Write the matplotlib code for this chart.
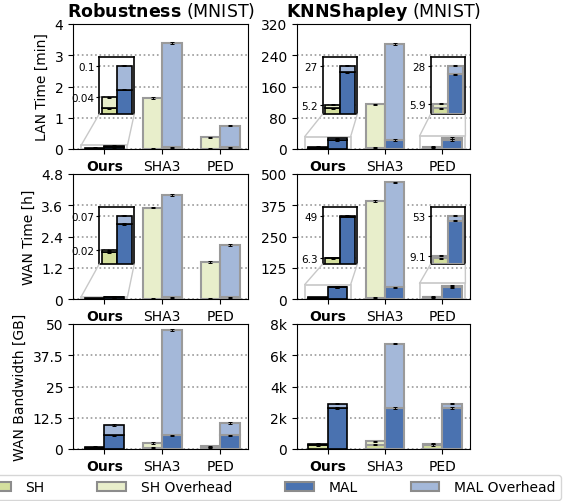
import matplotlib
matplotlib.use("Agg")
import matplotlib.pyplot as plt
from matplotlib.patches import Patch, Rectangle, ConnectionPatch
import numpy as np

groups = ["Ours", "SHA3", "PED"]
legend_labels = ["SH", "SH Overhead", "MAL", "MAL Overhead"]

# Robustness (MNIST) - LAN Time [min]
rob_lan_sh_base = [0.012, 0.012, 0.012]
rob_lan_sh_total = [0.035, 1.64, 0.37]
rob_lan_mal_base = [0.05, 0.05, 0.05]
rob_lan_mal_total = [0.10, 3.39, 0.75]
rob_lan_yticks = [0, 1, 2, 3, 4]
rob_lan_yticklabels = ["0", "1", "2", "3", "4"]
rob_lan_insets = {0: ["0.04", "0.1"]}

# KNNShapley (MNIST) - LAN Time [min]
knn_lan_sh_base = [3.3, 3.3, 3.3]
knn_lan_sh_total = [5.2, 114, 5.9]
knn_lan_mal_base = [23.2, 23, 23]
knn_lan_mal_total = [27, 269, 28]
knn_lan_yticks = [0, 80, 160, 240, 320]
knn_lan_yticklabels = ["0", "80", "160", "240", "320"]
knn_lan_insets = {0: ["5.2", "27"], 2: ["5.9", "28"]}

# Robustness (MNIST) - WAN Time [h]
rob_wan_sh_base = [0.017, 0.017, 0.017]
rob_wan_sh_total = [0.02, 3.51, 1.43]
rob_wan_mal_base = [0.058, 0.058, 0.058]
rob_wan_mal_total = [0.07, 3.99, 2.07]
rob_wan_yticks = [0, 1.2, 2.4, 3.6, 4.8]
rob_wan_yticklabels = ["0", "1.2", "2.4", "3.6", "4.8"]
rob_wan_insets = {0: ["0.02", "0.07"]}

# KNNShapley (MNIST) - WAN Time [h]
knn_wan_sh_base = [6.0, 6.0, 6.3]
knn_wan_sh_total = [6.3, 393, 9.1]
knn_wan_mal_base = [48, 47, 47.7]
knn_wan_mal_total = [49, 467, 53]
knn_wan_yticks = [0, 125, 250, 375, 500]
knn_wan_yticklabels = ["0", "125", "250", "375", "500"]
knn_wan_insets = {0: ["6.3", "49"], 2: ["9.1", "53"]}

# Robustness (MNIST) - WAN Bandwidth [GB]
rob_bw_sh_base = [0.6, 0.6, 0.6]
rob_bw_sh_total = [0.9, 2.5, 1.1]
rob_bw_mal_base = [5.5, 5.5, 5.5]
rob_bw_mal_total = [9.7, 47.6, 10.5]
rob_bw_yticks = [0, 12.5, 25, 37.5, 50]
rob_bw_yticklabels = ["0", "12.5", "25", "37.5", "50"]

# KNNShapley (MNIST) - WAN Bandwidth [GB]
knn_bw_sh_base = [260, 280, 260]
knn_bw_sh_total = [340, 490, 340]
knn_bw_mal_base = [2620, 2620, 2620]
knn_bw_mal_total = [2900, 6740, 2900]
knn_bw_yticks = [0, 2000, 4000, 6000, 8000]
knn_bw_yticklabels = ["0", "2k", "4k", "6k", "8k"]

titles = [("Robustness", "(MNIST)"), ("KNNShapley", "(MNIST)")]
ylabels = ["LAN Time [min]", "WAN Time [h]", "WAN Bandwidth [GB]"]

# ---------------- style ----------------
C_SH = "#d4df9e"
C_SHO = "#e8eecb"
C_MAL = "#4a72b0"
C_MALO = "#a4b8d9"
EDGE_OURS = "black"
EDGE_OTHER = "#9a9a9a"
W = 0.335
ERR_FRAC = 0.006
INSET_X = {0: 0.15, 2: 0.773}
INSET_Y, INSET_W, INSET_H = 0.28, 0.2, 0.456
INSET_TOP = 1.18
ZOOM_HALF = 0.4

plt.rcParams["font.family"] = ["DejaVu Sans"]

fig = plt.figure(figsize=(5.66, 5.02), dpi=100)

col_x = [73 / 566, 296.7 / 566]
col_w = [175 / 566, 173.3 / 566]
row_y = [1 - 150 / 502, 1 - 300 / 502, 1 - 450 / 502]
row_h = 125 / 502


def draw_bars(ax, sh_b, sh_t, mal_b, mal_t, ymax, fs_err=ERR_FRAC):
    x = np.arange(len(groups))
    err = ymax * fs_err
    for i in range(len(groups)):
        ec = EDGE_OURS if i == 0 else EDGE_OTHER
        lw = 1.2 if i == 0 else 1.5
        xl = x[i] - W / 2
        xr = x[i] + W / 2
        ax.bar(xl, sh_b[i], W, color=C_SH, edgecolor=ec, lw=lw, zorder=3)
        ax.bar(xl, sh_t[i] - sh_b[i], W, bottom=sh_b[i], color=C_SHO,
               edgecolor=ec, lw=lw, zorder=3)
        ax.bar(xr, mal_b[i], W, color=C_MAL, edgecolor=ec, lw=lw, zorder=3)
        ax.bar(xr, mal_t[i] - mal_b[i], W, bottom=mal_b[i], color=C_MALO,
               edgecolor=ec, lw=lw, zorder=3)
        ax.errorbar([xl, xl, xr, xr], [sh_b[i], sh_t[i], mal_b[i], mal_t[i]],
                    yerr=err, fmt="none", ecolor="black", elinewidth=0.7,
                    capsize=1.2, capthick=0.7, zorder=4)


def style_main(ax, yticks, yticklabels):
    ax.set_xlim(-0.54, 2.48)
    ax.set_ylim(yticks[0], yticks[-1])
    ax.set_yticks(yticks)
    ax.set_yticklabels(yticklabels)
    ax.set_xticks(np.arange(len(groups)))
    ax.set_xticklabels(groups)
    ax.get_xticklabels()[0].set_fontweight("bold")
    ax.tick_params(axis="both", labelsize=10, length=3.5)
    ax.yaxis.grid(True, linestyle=":", color="#999999", lw=1.2)
    ax.set_axisbelow(True)


def add_inset(ax, g, labels, sh_b, sh_t, mal_b, mal_t):
    axins = ax.inset_axes([INSET_X[g], INSET_Y, INSET_W, INSET_H])
    top = max(sh_t[g], mal_t[g]) * INSET_TOP
    draw_bars(axins, sh_b, sh_t, mal_b, mal_t, top, fs_err=0.01)
    axins.set_xlim(g - 0.39, g + 0.39)
    axins.set_ylim(0, top)
    axins.set_xticks([])
    axins.set_yticks([sh_t[g], mal_t[g]])
    axins.set_yticklabels(labels)
    axins.tick_params(axis="y", labelsize=7.5, length=2, pad=1.5)
    axins.yaxis.grid(True, linestyle=":", color="#999999", lw=1.2)
    axins.set_axisbelow(True)
    for s in axins.spines.values():
        s.set_linewidth(1.2)
    ax.add_patch(Rectangle((g - ZOOM_HALF, 0), 2 * ZOOM_HALF, top, fill=False,
                           edgecolor="#cccccc", lw=1.3, zorder=2.5))
    for ax_corner, xd in [((0, 0), g - ZOOM_HALF), ((1, 0), g + ZOOM_HALF)]:
        cp = ConnectionPatch(xyA=ax_corner, coordsA=axins.transAxes,
                             xyB=(xd, top), coordsB=ax.transData,
                             color="#c8c8c8", lw=1.0, zorder=2)
        fig.add_artist(cp)


panels = [
    [(rob_lan_sh_base, rob_lan_sh_total, rob_lan_mal_base, rob_lan_mal_total,
      rob_lan_yticks, rob_lan_yticklabels, rob_lan_insets),
     (knn_lan_sh_base, knn_lan_sh_total, knn_lan_mal_base, knn_lan_mal_total,
      knn_lan_yticks, knn_lan_yticklabels, knn_lan_insets)],
    [(rob_wan_sh_base, rob_wan_sh_total, rob_wan_mal_base, rob_wan_mal_total,
      rob_wan_yticks, rob_wan_yticklabels, rob_wan_insets),
     (knn_wan_sh_base, knn_wan_sh_total, knn_wan_mal_base, knn_wan_mal_total,
      knn_wan_yticks, knn_wan_yticklabels, knn_wan_insets)],
    [(rob_bw_sh_base, rob_bw_sh_total, rob_bw_mal_base, rob_bw_mal_total,
      rob_bw_yticks, rob_bw_yticklabels, {}),
     (knn_bw_sh_base, knn_bw_sh_total, knn_bw_mal_base, knn_bw_mal_total,
      knn_bw_yticks, knn_bw_yticklabels, {})],
]

for r in range(3):
    for c in range(2):
        sh_b, sh_t, mal_b, mal_t, yt, ytl, insets = panels[r][c]
        ax = fig.add_axes([col_x[c], row_y[r], col_w[c], row_h])
        draw_bars(ax, sh_b, sh_t, mal_b, mal_t, yt[-1])
        style_main(ax, yt, ytl)
        for g, labels in insets.items():
            add_inset(ax, g, labels, sh_b, sh_t, mal_b, mal_t)
        if c == 0:
            ax.set_ylabel(ylabels[r], fontsize=10)
        if r == 0:
            bold, rest = titles[c]
            ax.set_title(r"$\mathbf{" + bold + "}$ " + rest, fontsize=12.5, pad=6)

handles = [Patch(facecolor=col, edgecolor="#8c8c8c", lw=1.5)
           for col in [C_SH, C_SHO, C_MAL, C_MALO]]
fig.legend(handles, legend_labels, loc="center", bbox_to_anchor=(0.475, 0.027),
           ncol=4, fontsize=10, columnspacing=3.8, handlelength=2.05,
           handletextpad=1.08, frameon=True, edgecolor="#cccccc")

fig.savefig("out.png", dpi=100)
